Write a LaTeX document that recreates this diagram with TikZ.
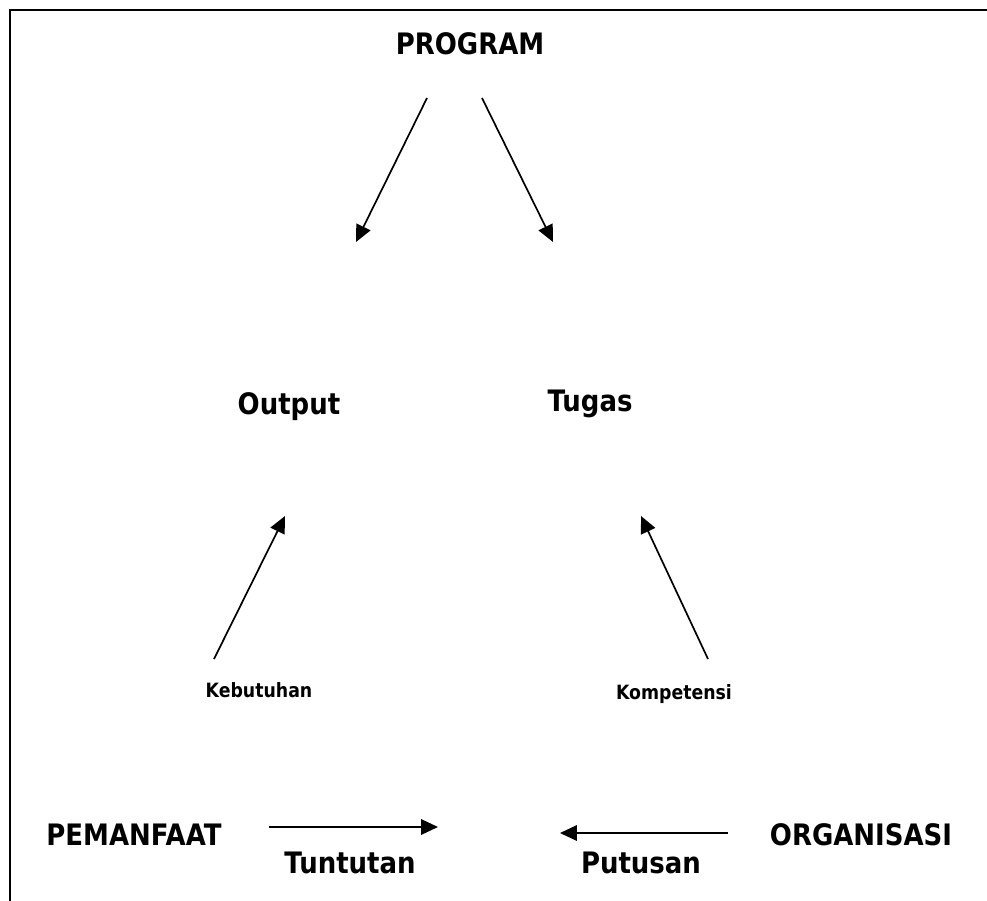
\documentclass[tikz,border=0pt]{standalone}
\usepackage{fontspec}
\setmainfont[FakeStretch=0.88]{DejaVu Sans}
\usetikzlibrary{arrows.meta}

\tikzset{
    big/.style={anchor=base, inner sep=0pt, font=\fontsize{21}{24}\selectfont\bfseries},
    small/.style={anchor=base, inner sep=0pt, font=\fontsize{14}{16}\selectfont\bfseries},
    arr/.style={line width=1.2pt, -{Triangle[length=12pt, width=11pt]}}
}

\begin{document}
\begin{tikzpicture}[x=0.025cm, y=-0.025cm]
        \useasboundingbox (0,0) rectangle (987,901);
        % Frame
        \draw[line width=1.4pt] (987,10) -- (10,10) -- (10,901);

        % Labels
        \node[big] (program) at (470,54) {PROGRAM};
        \node[big] (output) at (289,414) {Output};
        \node[big] (tugas) at (590,411) {Tugas};
        \node[small] (kebutuhan) at (259,697) {Kebutuhan};
        \node[small] (kompetensi) at (674,699) {Kompetensi};
        \node[big] (pemanfaat) at (134,845) {PEMANFAAT};
        \node[big] (organisasi) at (861,845) {ORGANISASI};
        \node[big] (tuntutan) at (350,873) {Tuntutan};
        \node[big] (putusan) at (641,873) {Putusan};

        % Arrow ends
        \coordinate (prog-l) at (427,98);
        \coordinate (prog-r) at (482,98);
        \coordinate (out-in) at (356,242);
        \coordinate (tug-in) at (553,242);
        \coordinate (keb-out) at (214,659);
        \coordinate (out-up) at (285,516);
        \coordinate (komp-out) at (708,659);
        \coordinate (tug-up) at (641,516);
        \coordinate (pem-out) at (269,827);
        \coordinate (tun-in) at (438,827);
        \coordinate (org-out) at (728,833);
        \coordinate (put-in) at (560,833);

        % Connections
        \draw[arr] (prog-l) -- (out-in);
        \draw[arr] (prog-r) -- (tug-in);
        \draw[arr] (keb-out) -- (out-up);
        \draw[arr] (komp-out) -- (tug-up);
        \draw[arr] (pem-out) -- (tun-in);
        \draw[arr] (org-out) -- (put-in);
    \end{tikzpicture}
\end{document}
